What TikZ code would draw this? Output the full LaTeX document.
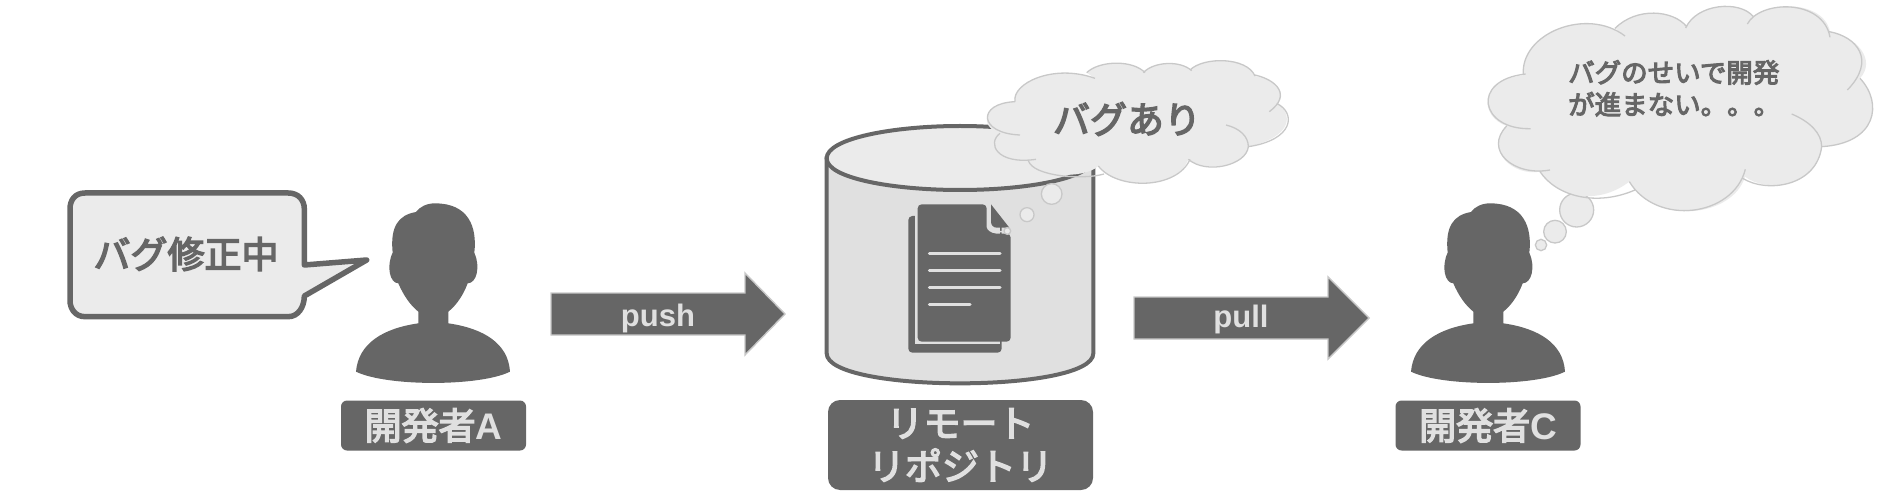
\documentclass[tikz,border=0pt]{standalone}
\usepackage{fontspec}
\setmainfont{Liberation Sans}
\newfontfamily\cjk[FakeBold=4]{Noto Sans CJK JP}
\definecolor{dk}{HTML}{666666}
\definecolor{lt}{HTML}{EBEBEB}
\definecolor{md}{HTML}{E0E0E0}
\definecolor{ln}{HTML}{C8C8C8}
\newcommand\fsz[1]{\fontsize{#1}{#1}\selectfont}
\newcommand\personshape{%
  \fill[dk] (948,605) .. controls (1040,650) and (1320,650) .. (1410,605)
    .. controls (1405,520) and (1330,475) .. (1225,460) -- (1225,425)
    .. controls (1250,405) and (1270,375) .. (1283,340)
    .. controls (1310,340) and (1322,290) .. (1303,248)
    .. controls (1312,170) and (1285,100) .. (1185,100)
    .. controls (1160,100) and (1140,110) .. (1128,126)
    .. controls (1075,135) and (1050,170) .. (1058,248)
    .. controls (1038,290) and (1050,340) .. (1075,340)
    .. controls (1090,375) and (1110,405) .. (1135,425) -- (1135,460)
    .. controls (1030,475) and (955,520) .. (948,605) -- cycle;}
\tikzset{
  lbl/.style={fill=dk,rounded corners=6pt,text=md,inner sep=0pt,align=center},
  arrowbody/.style={fill=dk,draw=ln,line width=1.4pt,line join=miter},
  arrowtxt/.style={text=md,font=\fsz{31}\bfseries,inner sep=0pt},
  bub/.style={fill=lt,draw=ln,line width=1.3pt},
  cloudstroke/.style={draw=ln,line width=1.3pt},
  txt/.style={text=dk,inner sep=0pt},
  doc/.style={line width=3pt,draw=md,line cap=round}
}
\begin{document}
\begin{tikzpicture}[x=1pt,y=-1pt]
\useasboundingbox (0,0) rectangle (1885,500);
% person A
\begin{scope}[shift={(40,170)},x=0.33333pt,y=-0.33333pt]
  \personshape
  \draw[draw=dk,fill=lt,line width=5.5pt,line join=round,rounded corners=0pt]
    (135,69) -- (745,69) .. controls (775,69) and (793,90) .. (793,117)
    -- (793,285) -- (980,270) -- (793,378)
    .. controls (793,410) and (775,440) .. (745,440) -- (135,440)
    .. controls (105,440) and (90,415) .. (90,392) -- (90,117)
    .. controls (90,90) and (105,69) .. (135,69) -- cycle;
\end{scope}
\node[txt,font=\cjk\fsz{37}] (bugfix) at (186,254) {バグ修正中};
\node[lbl,minimum width=185pt,minimum height=50pt] (devA) at (433.5,425.5)
  {\cjk\fsz{37}開発者\rmfamily\bfseries A};
% person C
\begin{scope}[shift={(1095,170)},x=0.33333pt,y=-0.33333pt]
  \personshape
\end{scope}
\node[lbl,minimum width=185pt,minimum height=50pt] (devC) at (1488,425.5)
  {\cjk\fsz{37}開発者\rmfamily\bfseries C};
% arrows
\draw[arrowbody] (551,293) -- (745,293) -- (745,273) -- (785,314) -- (745,355) -- (745,335) -- (551,335) -- cycle;
\node[arrowtxt] (push) at (658,318) {push};
\draw[arrowbody] (1134,297) -- (1328,297) -- (1328,277) -- (1369,318) -- (1328,359) -- (1328,339) -- (1134,339) -- cycle;
\node[arrowtxt] (pull) at (1241,319) {pull};
% cylinder
\begin{scope}[shift={(800,40)},x=0.33333pt,y=-0.33333pt]
  \draw[fill=md,draw=dk,line width=4pt]
    (80,355) -- (80,940) .. controls (80,1000) and (280,1030) .. (480,1030)
    .. controls (680,1030) and (880,1000) .. (880,940) -- (880,355) -- cycle;
  \draw[fill=lt,draw=dk,line width=4pt]
    (80,355) .. controls (80,295) and (280,258) .. (480,258)
    .. controls (680,258) and (880,295) .. (880,355)
    .. controls (880,415) and (680,450) .. (480,450)
    .. controls (280,450) and (80,415) .. (80,355) -- cycle;
  % document
  \fill[dk,rounded corners=4pt] (325,528) rectangle (605,938);
  \fill[md] (345,500) rectangle (600,913);
  \fill[dk,rounded corners=4pt]
    (353,905) -- (353,493) -- (560,493) -- (560,550)
    [sharp corners] .. controls (560,568) and (572,581) .. (590,581)
    [rounded corners=4pt] -- (632,581) -- (632,905) -- cycle;
  \draw[draw=md,line width=1.5pt] (566,493) -- (566,550)
    .. controls (566,565) and (576,575) .. (590,575) -- (622,575);
  \fill[dk] (573,493) -- (628,563) -- (590,563) .. controls (580,563) and (573,555) .. (573,545) -- cycle;
  \draw[doc] (388,642) -- (600,642);
  \draw[doc] (388,693) -- (600,693);
  \draw[doc] (388,744) -- (600,744);
  \draw[doc] (388,795) -- (510,795);
  % thought bubbles
  \draw[bub] (622,573) circle[radius=10];
  \draw[bub] (681,524) circle[radius=21];
  \draw[bub] (755,462) circle[radius=31];
  % cloud
  \fill[lt] (645,185)
    .. controls (635,130) and (760,70) .. (885,115)
    -- (860,98) .. controls (900,60) and (1000,60) .. (1035,98)
    -- (1030,98) .. controls (1060,65) and (1140,60) .. (1175,92)
    -- (1170,90) .. controls (1210,50) and (1340,50) .. (1365,108)
    .. controls (1430,120) and (1465,165) .. (1430,190)
    .. controls (1480,220) and (1480,290) .. (1345,320)
    .. controls (1340,375) and (1220,400) .. (1165,358)
    .. controls (1130,450) and (950,450) .. (895,378)
    .. controls (850,420) and (700,410) .. (690,362)
    .. controls (590,360) and (560,310) .. (600,280)
    .. controls (535,260) and (550,190) .. (645,185) -- cycle;
  \draw[cloudstroke]
    (645,185) .. controls (635,130) and (760,70) .. (885,115)
    (860,98) .. controls (900,60) and (1000,60) .. (1035,98)
    (1030,98) .. controls (1060,65) and (1140,60) .. (1175,92)
    (1170,90) .. controls (1210,50) and (1340,50) .. (1365,108)
    (1365,105) .. controls (1430,120) and (1475,165) .. (1408,215)
    (1430,190) .. controls (1490,220) and (1480,300) .. (1345,320)
    (1278,255) .. controls (1320,265) and (1345,290) .. (1345,320)
    .. controls (1340,375) and (1220,405) .. (1165,358)
    (1170,358) .. controls (1130,450) and (950,450) .. (895,378)
    (912,402) .. controls (850,420) and (700,410) .. (685,362)
    (708,358) .. controls (590,375) and (560,310) .. (600,280)
    (660,285) .. controls (535,280) and (530,190) .. (645,185);
\end{scope}
\node[txt,font=\cjk\fsz{37}] (bug) at (1127,119) {バグあり};
% repository label
\node[lbl,rounded corners=12pt,minimum width=265pt,minimum height=90pt,font=\cjk\fontsize{37}{43}\selectfont] (repo) at (960.5,445)
  {リモート\\リポジトリ};
% big cloud
\begin{scope}[shift={(1380,0)},x=0.33333pt,y=-0.33333pt]
  \draw[bub] (483,735) circle[radius=17];
  \draw[bub] (525,695) circle[radius=34];
  \draw[bub] (590,630) circle[radius=51];
  \fill[lt] (430,225)
    .. controls (420,100) and (620,20) .. (735,108)
    -- (705,85) .. controls (770,20) and (880,30) .. (920,80)
    .. controls (950,10) and (1080,0) .. (1120,50)
    -- (1102,72) .. controls (1140,0) and (1330,-5) .. (1350,95)
    .. controls (1430,110) and (1490,180) .. (1440,235)
    .. controls (1510,310) and (1490,430) .. (1325,440)
    .. controls (1310,560) and (1160,580) .. (1095,530)
    .. controls (1060,650) and (830,680) .. (748,545)
    .. controls (650,620) and (530,590) .. (480,515)
    .. controls (400,530) and (310,450) .. (380,378)
    .. controls (300,350) and (290,240) .. (435,225) -- cycle;
  \draw[cloudstroke]
    (430,225) .. controls (420,100) and (620,20) .. (735,108)
    (705,85) .. controls (770,20) and (880,30) .. (920,80)
    (917,84) .. controls (950,10) and (1080,0) .. (1120,50)
    (1102,72) .. controls (1140,0) and (1330,-5) .. (1350,112)
    (1348,95) .. controls (1430,110) and (1490,180) .. (1402,270)
    (1440,235) .. controls (1510,310) and (1490,430) .. (1325,440)
    (1235,342) .. controls (1290,365) and (1325,400) .. (1325,440)
    .. controls (1310,560) and (1160,580) .. (1088,535)
    (1096,508) .. controls (1060,650) and (830,680) .. (748,545)
    (765,570) .. controls (650,620) and (530,590) .. (480,515)
    (510,510) .. controls (400,530) and (310,450) .. (380,378)
    (452,386) .. controls (300,390) and (270,240) .. (437,222);
\end{scope}
\node[txt,anchor=north west,align=left,font=\cjk\fontsize{26.5}{32}\selectfont] (stuck) at (1568,60)
  {バグのせいで開発\\が進まない。。。};
\end{tikzpicture}
\end{document}
